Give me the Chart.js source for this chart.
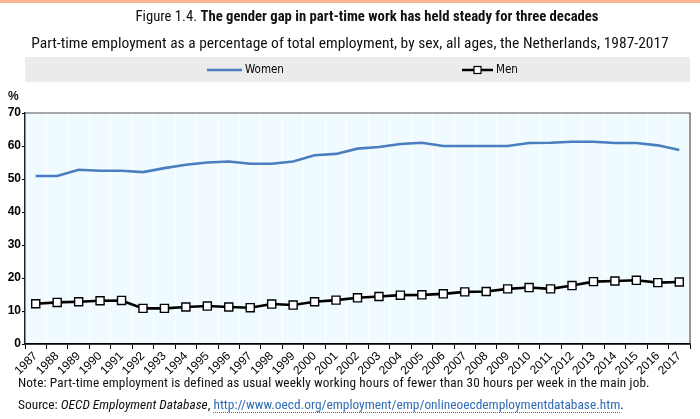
<!DOCTYPE html>
<html>
<head>
<meta charset="utf-8">
<script src="https://cdn.jsdelivr.net/npm/chart.js@4.4.1/dist/chart.umd.min.js"></script>
<style>
  html, body { margin: 0; padding: 0; background: #fff; }
  #wrap { position: relative; width: 700px; height: 419px; overflow: hidden; }
  #topbar { position: absolute; left: 0; top: 0; width: 700px; height: 3px; background: #f9b494; }
  canvas { position: absolute; left: 0; top: 0; }
  .txt { position: absolute; white-space: nowrap; color: #111; font-family: "Roboto Condensed", "Liberation Sans Narrow", "DejaVu Sans Condensed", Roboto, sans-serif; }
  #title { top: 7px; left: 34px; width: 666px; text-align: center; font-size: 14.7px; }
  #title b { font-weight: bold; }
  #subtitle { top: 34px; left: 0; width: 700px; text-align: center; font-size: 15.5px; }
  #pct { top: 89px; left: 8px; font-family: "Liberation Sans", Arial, sans-serif; font-weight: bold; font-size: 12px; }
  #note { top: 375px; left: 18px; font-size: 13.25px; letter-spacing: 0.12px; }
  #source { top: 397px; left: 18px; font-size: 13.4px; }
  #source a { color: #2f6db5; text-decoration: none; border-bottom: 1px dotted #2f6db5; }
</style>
</head>
<body>
<div id="wrap">
  <div id="topbar"></div>
  <canvas id="c" width="700" height="419"></canvas>
  <div class="txt" id="title">Figure 1.4. <b>The gender gap in part-time work has held steady for three decades</b></div>
  <div class="txt" id="subtitle">Part-time employment as a percentage of total employment, by sex, all ages, the Netherlands, 1987-2017</div>
  <div class="txt" id="pct">%</div>
  <div class="txt" id="note">Note: Part-time employment is defined as usual weekly working hours of fewer than 30 hours per week in the main job.</div>
  <div class="txt" id="source">Source: <i>OECD Employment Database</i>, <a href="#">http://www.oecd.org/employment/emp/onlineoecdemploymentdatabase.htm</a>.</div>
</div>
<script>
const years = ["1987","1988","1989","1990","1991","1992","1993","1994","1995","1996","1997","1998","1999","2000","2001","2002","2003","2004","2005","2006","2007","2008","2009","2010","2011","2012","2013","2014","2015","2016","2017"];
const women = [50.9,50.9,52.8,52.5,52.5,52.1,53.3,54.3,55.0,55.3,54.6,54.6,55.3,57.2,57.6,59.2,59.7,60.6,61.0,60.0,60.0,60.0,60.0,60.9,61.0,61.3,61.3,60.9,60.9,60.2,58.8];
const men = [12.2,12.6,12.8,13.1,13.2,10.8,10.8,11.2,11.5,11.2,11.0,12.1,11.8,12.8,13.3,14.0,14.4,14.8,14.9,15.2,15.8,15.9,16.7,17.1,16.7,17.7,18.9,19.1,19.3,18.6,18.8];
const yTicks = [0,10,20,30,40,50,60,70];

const WOMEN_COLOR = '#4a7ebf';

const decor = {
  id: 'decor',
  beforeDraw(chart) {
    const {ctx, chartArea: a} = chart;
    ctx.save();
    ctx.fillStyle = '#effbff';
    ctx.fillRect(a.left, a.top, a.right - a.left, a.bottom - a.top);
    ctx.fillStyle = '#ebebeb';
    ctx.fillRect(a.left, 57, a.right - a.left, 25);
    ctx.restore();
  },
  afterDraw(chart) {
    const {ctx, chartArea: a} = chart;
    ctx.save();
    ctx.strokeStyle = '#555';
    ctx.lineWidth = 1.2;
    ctx.beginPath();
    ctx.moveTo(a.left, a.top);
    ctx.lineTo(a.right, a.top);
    ctx.lineTo(a.right, a.bottom);
    ctx.stroke();
    const ly = 70;
    const ds = chart.data.datasets;
    ctx.font = '11.5px "Liberation Sans Narrow", "DejaVu Sans Condensed", sans-serif';
    ctx.textBaseline = 'middle';
    ctx.fillStyle = '#000';
    ctx.strokeStyle = ds[0].borderColor; ctx.lineWidth = 2.5;
    ctx.beginPath(); ctx.moveTo(207, ly); ctx.lineTo(242, ly); ctx.stroke();
    ctx.fillText(ds[0].label, 245, ly);
    ctx.strokeStyle = ds[1].borderColor; ctx.lineWidth = 2.5;
    ctx.beginPath(); ctx.moveTo(462, ly); ctx.lineTo(493, ly); ctx.stroke();
    ctx.fillStyle = '#fff'; ctx.lineWidth = 1.2;
    ctx.fillRect(474, ly - 3.5, 7, 7); ctx.strokeRect(474, ly - 3.5, 7, 7);
    ctx.fillStyle = '#000';
    ctx.fillText(ds[1].label, 496, ly);
    ctx.restore();
  }
};

new Chart(document.getElementById('c'), {
  type: 'line',
  data: {
    labels: years,
    datasets: [
      { label: 'Women', data: women, borderColor: WOMEN_COLOR, backgroundColor: WOMEN_COLOR, borderWidth: 2.6, pointRadius: 0, tension: 0 },
      { label: 'Men', data: men, borderColor: '#000', backgroundColor: '#fff', borderWidth: 2.6, pointStyle: 'rect', pointRadius: 5.7, pointBorderWidth: 1.4, pointBorderColor: '#000', pointBackgroundColor: '#fff', tension: 0 }
    ]
  },
  options: {
    responsive: false,
    animation: false,
    layout: { padding: { top: 113, left: 0, right: 10, bottom: 0 } },
    plugins: { legend: { display: false }, tooltip: { enabled: false } },
    scales: {
      x: {
        offset: true,
        grid: { offset: true, color: '#ffffff', lineWidth: 1, tickColor: '#000', tickLength: 5, drawOnChartArea: true },
        border: { color: '#000', width: 1.8 },
        ticks: { maxRotation: 45, minRotation: 45, autoSkip: false, color: '#000', padding: 0, font: { family: '"Liberation Sans Narrow", "Liberation Sans", Arial, sans-serif', size: 12 } },
        afterFit(s) { s.height = 75; s.paddingLeft = 0; s.paddingRight = 0; }
      },
      y: {
        min: 0, max: 70,
        afterBuildTicks(s) { s.ticks = yTicks.map(v => ({ value: v })); },
        grid: { drawOnChartArea: false, color: '#000', tickLength: 3 },
        border: { color: '#222', width: 1.5 },
        ticks: { color: '#000', padding: 1, font: { family: '"Liberation Sans", Arial, sans-serif', size: 12, weight: 'bold' } },
        afterFit(s) { s.width = 25; }
      }
    }
  },
  plugins: [decor]
});
</script>
</body>
</html>
